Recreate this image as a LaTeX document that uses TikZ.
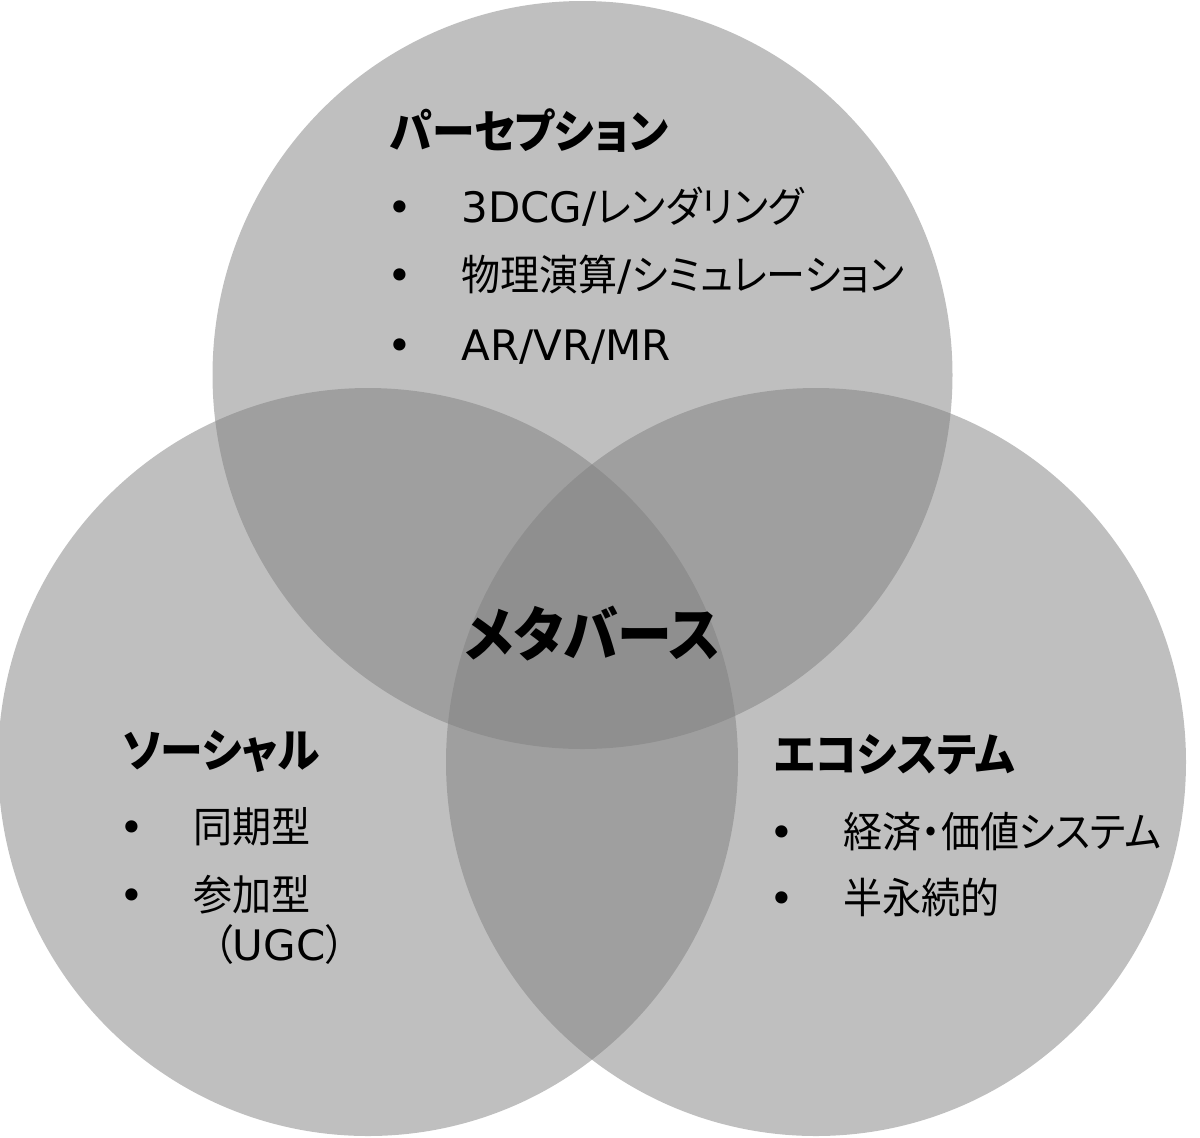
\documentclass[tikz,border=0pt]{standalone}
\usepackage{fontspec}
\setmainfont[RawFeature=+palt, FakeStretch=0.93]{Noto Sans CJK JP}
\newfontfamily\latfont{DejaVu Sans}
\usepackage{tikz}

\newcommand{\ltn}[1]{{\latfont #1}}
\newcommand{\bul}{\makebox[37pt][l]{\latfont •}}

\tikzset{
	venn/.style={fill=black!50, fill opacity=0.5},
	head/.style={anchor=west, inner sep=0pt, font=\fontsize{23pt}{27pt}\selectfont\bfseries},
	item/.style={anchor=west, inner sep=0pt, font=\fontsize{21pt}{25pt}\selectfont},
}

\begin{document}
\begin{tikzpicture}[x=0.5pt, y=-0.5pt]
	\useasboundingbox (0,0) rectangle (1200,1137);
	
	\fill[venn] (582.5,375) ellipse [x radius=185pt, y radius=187pt];
	\fill[venn] (368,762) ellipse [x radius=185pt, y radius=187pt];
	\fill[venn] (816,762) ellipse [x radius=185pt, y radius=187pt];
	
	\node[inner sep=0pt, font=\fontsize{29.5pt}{33pt}\selectfont\bfseries] (meta) at (592.5,634) {メタバース};
	
	\node[head] (perc) at (390,131) {パーセプション};
	\node[item] (perc1) at (387,207) {\bul\ltn{3DCG/}レンダリング};
	\node[item] (perc2) at (387,275) {\bul 物理演算\ltn{/}シミュレーション};
	\node[item] (perc3) at (387,347) {\bul\ltn{AR/VR/MR}};
	
	\node[head] (soc) at (122,752) {ソーシャル};
	\node[item] (soc1) at (119,827) {\bul 同期型};
	\node[item] (soc2) at (119,895) {\bul 参加型};
	\node[item] (soc3) at (213,945) {（\ltn{UGC}）};
	
	\node[head] (eco) at (774,755) {エコシステム};
	\node[item] (eco1) at (769,832) {\bul 経済・価値システム};
	\node[item] (eco2) at (769,897) {\bul 半永続的};
\end{tikzpicture}
\end{document}
